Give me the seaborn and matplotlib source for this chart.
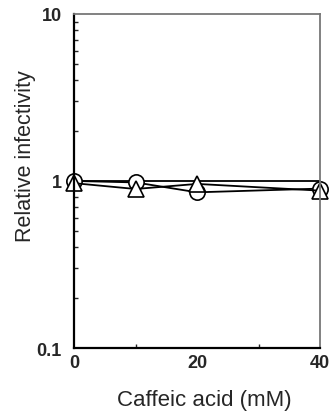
import matplotlib
matplotlib.use("Agg")
import matplotlib.pyplot as plt
import seaborn as sns
import pandas as pd
from matplotlib.ticker import FixedLocator, NullFormatter, LogLocator

sns.set_style("white")
plt.rcParams['font.family'] = ['Liberation Sans', 'DejaVu Sans']

conc = [0, 10, 20, 40]
circle_vals = [1.0, 0.98, 0.855, 0.90]
triangle_vals = [0.97, 0.895, 0.96, 0.875]
ref_vals = [1.0, 1.0, 1.0, 1.0]

x_ticks = [0, 20, 40]
x_minor = [10, 30]
y_ticks = [0.1, 1, 10]
y_ticklabels = ["0.1", "1", "10"]

fig = plt.figure(figsize=(3.32, 4.14), dpi=100)
ax = fig.add_axes([0.223, 0.157, 0.741, 0.807])

df_ref = pd.DataFrame({"x": conc, "y": ref_vals})
df_c = pd.DataFrame({"x": conc, "y": circle_vals})
df_t = pd.DataFrame({"x": conc, "y": triangle_vals})

sns.lineplot(data=df_ref, x="x", y="y", ax=ax, color="black", lw=1.3)
sns.lineplot(data=df_c, x="x", y="y", ax=ax, color="black", lw=1.3,
             marker="o", markersize=11, markerfacecolor="white",
             markeredgecolor="black", markeredgewidth=1.2)
sns.lineplot(data=df_t, x="x", y="y", ax=ax, color="black", lw=1.3,
             marker="^", markersize=12, markerfacecolor="white",
             markeredgecolor="black", markeredgewidth=1.2)

ax.set_yscale("log")
ax.set_xlim(0, 40)
ax.set_ylim(0.1, 10)
ax.set_xticks(x_ticks)
ax.set_xticklabels([str(v) for v in x_ticks], fontweight="bold", fontsize=13)
ax.xaxis.set_minor_locator(FixedLocator(x_minor))
ax.set_yticks(y_ticks)
ax.set_yticklabels(y_ticklabels, fontweight="bold", fontsize=13)
ax.yaxis.set_minor_locator(LogLocator(base=10, subs=range(2, 10)))
ax.yaxis.set_minor_formatter(NullFormatter())

ax.tick_params(axis="both", which="minor", direction="in", length=3, width=1.0,
               left=True, bottom=True)
ax.tick_params(axis="y", which="major", length=0, pad=9)
ax.tick_params(axis="x", which="major", length=0, pad=4)

for side in ["left", "bottom"]:
    ax.spines[side].set_color("black")
    ax.spines[side].set_linewidth(1.6)
for side in ["top", "right"]:
    ax.spines[side].set_color("#777777")
    ax.spines[side].set_linewidth(1.3)

ax.set_xlabel("Caffeic acid (mM)", fontsize=16)
ax.set_ylabel("Relative infectivity", fontsize=15.5)
ax.xaxis.set_label_coords(0.53, -0.123)
ax.yaxis.set_label_coords(-0.154, 0.578)
for l in ax.lines:
    l.set_clip_on(False)

fig.savefig("out.png", dpi=100)
